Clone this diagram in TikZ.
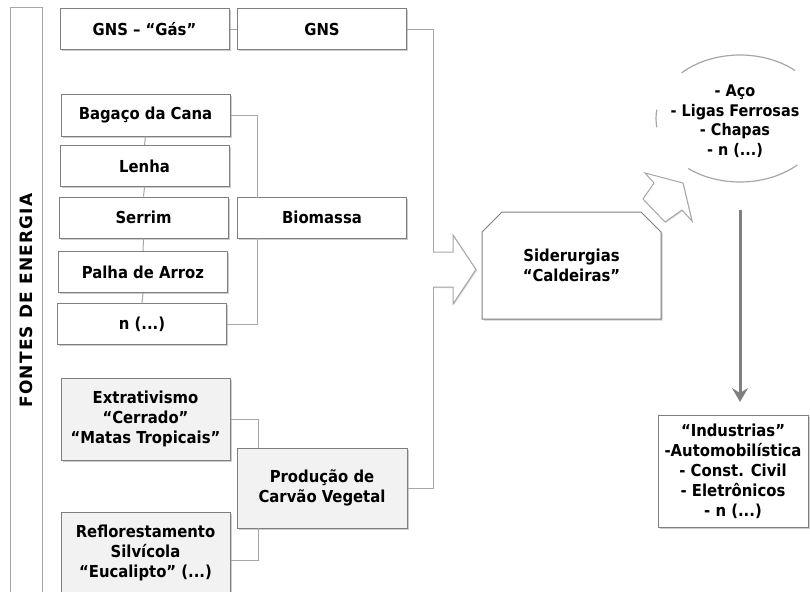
\documentclass[tikz,border=0pt]{standalone}
\usepackage{fontspec}
\setmainfont{DejaVu Sans Condensed}
\newfontfamily\SideFont[LetterSpace=7]{DejaVu Sans}
\usepackage{xcolor}
\definecolor{Col1}{RGB}{127,127,127}
\definecolor{Col2}{RGB}{166,166,166}
\definecolor{Col3}{RGB}{242,242,242}
\definecolor{Col4}{RGB}{128,128,128}
\usepackage{tikz}
\usetikzlibrary{shapes.misc}
\usetikzlibrary{shadows}
\usetikzlibrary{arrows.meta}
\tikzstyle{Box}=[rectangle,draw=Col1,fill=white,line width=1pt,
minimum width=169,minimum height=41,inner sep=0pt,align=center,
font=\bfseries\fontsize{16.5}{20}\selectfont,text=black,
drop shadow={shadow xshift=1.5pt,shadow yshift=-1.5pt,fill=black!40,opacity=.5}]
\tikzstyle{BoxG}=[Box,fill=Col3]
\tikzstyle{Edge}=[draw=Col2,line width=1pt]
\tikzstyle{Block}=[draw=Col2,fill=white,line width=1pt,line join=miter,
drop shadow={shadow xshift=1pt,shadow yshift=-1pt,fill=black!30,opacity=.5}]
\tikzstyle{Arc}=[draw=Col2,line width=1.2pt]
\tikzstyle{Big}=[draw=Col4,line width=3pt,-{Stealth[length=14pt,width=16pt,inset=5pt]}]
\tikzstyle{Side}=[draw=Col2,line width=1pt,minimum width=585,minimum height=32,
inner sep=0pt,font=\SideFont\bfseries\fontsize{17}{17}\selectfont]
\tikzstyle{NodeST}=[align=center,inner sep=0pt,text=black,
font=\bfseries\fontsize{16}{19.5}\selectfont]

\begin{document}
\begin{tikzpicture}[x=1pt,y=-1pt]
        \useasboundingbox(0,0)rectangle(810,591);
        \node[Side,rotate=90](src)at(26,300.5){FONTES DE ENERGIA};
        \node[Box](gas)at(144.5,29.5){GNS – “Gás”};
        \node[Box](gns)at(322,29.5){GNS};
        \node[Box](bag)at(145.5,115.5){Bagaço da Cana};
        \node[Box](len)at(144.5,166){Lenha};
        \node[Box](ser)at(143.5,217.5){Serrim};
        \node[Box](pal)at(143,272){Palha de Arroz};
        \node[Box](nn)at(142,324){n (...)};
        \node[Box](bio)at(322,217.5){Biomassa};
        \node[BoxG,minimum height=82](ext)at(145.5,419){Extrativismo\\“Cerrado”\\“Matas Tropicais”};
        \node[BoxG,minimum height=80,minimum width=170](prod)at(322,488){Produção de\\Carvão Vegetal};
        \node[BoxG,minimum height=82](ref)at(145.5,553){Reflorestamento\\Silvícola\\“Eucalipto” (...)};
        \node[Box,chamfered rectangle,chamfered rectangle corners={north west,north east},
            chamfered rectangle angle=45,chamfered rectangle xsep=20pt,
            minimum width=179,minimum height=107](sid)at(571.5,265.5){Siderurgias\\“Caldeiras”};
        \node[Box,minimum width=150,minimum height=112](ind)at(733,471){“Industrias”\\-Automobilística\\- Const. Civil\\- Eletrônicos\\- n (...)};
        \node[NodeST](aco)at(735,121){- Aço\\- Ligas Ferrosas\\- Chapas\\- n (...)};
        \coordinate(bt)at(257,197.5);
        \coordinate(bb)at(257,237.5);
        \coordinate(pt)at(258,448);
        \coordinate(pb)at(258,528);
        \coordinate(bus)at(433,488);
        \coordinate(ell)at(740,118.5);
        \coordinate(vt)at(740,210);
        \coordinate(vb)at(740,402);
        \draw[Edge](gas)--(gns);
        \draw[Edge](bag.south)--(len.north);
        \draw[Edge](len.south)--(ser.north);
        \draw[Edge](ser.south)--(pal.north);
        \draw[Edge](pal.south)--(nn.north);
        \draw[Edge](bag.east)-|(bt);
        \draw[Edge](nn.east)-|(bb);
        \draw[Edge](ext.east)-|(pt);
        \draw[Edge]([yshift=-7pt]ref.east)-|(pb);
        \draw[Edge](gns.east)-|(bus)--(prod.east);
        \draw[Block](433,252)--(453,252)--(453,235)--(476,269.5)--(453,304)--(453,287)--(433,287);
        \draw[Block](643,199)--(654,183)--(645,173)--(683,183)--(692,221)--(682,210)--(665,222)--cycle;
        \draw[Arc]([shift={(226:84 and 63.5)}]ell)arc(226:311:84 and 63.5);
        \draw[Arc]([shift={(47:84 and 63.5)}]ell)arc(47:128:84 and 63.5);
        \draw[Arc]([shift={(172:84 and 63.5)}]ell)arc(172:188:84 and 63.5);
        \draw[Big](vt)--(vb);
    \end{tikzpicture}
\end{document}
